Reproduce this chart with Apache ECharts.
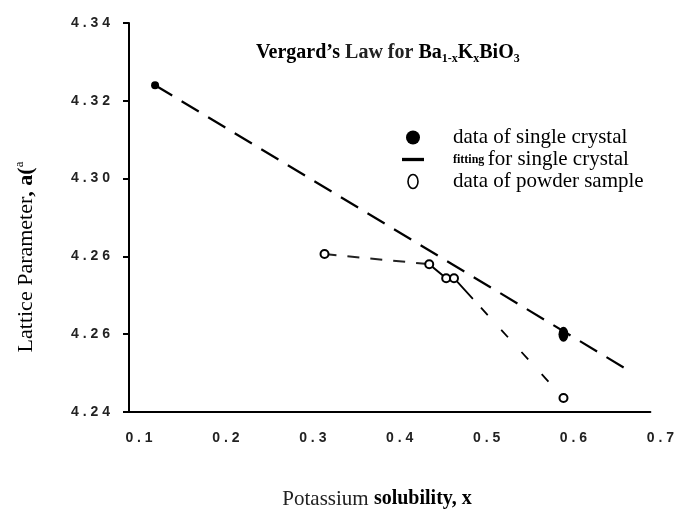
<!DOCTYPE html>
<html>
<head>
<meta charset="utf-8">
<script src="https://cdn.jsdelivr.net/npm/echarts@6/dist/echarts.min.js"></script>
<style>html,body{margin:0;padding:0;background:#fff}#c{width:677px;height:510px}</style>
</head>
<body>
<div id="c"></div>
<script>
// ---- data ----
const xTickLabels = ['0 . 1', '0 . 2', '0 . 3', '0 . 4', '0 . 5', '0 . 6', '0 . 7'];
const yTickLabels = ['4 . 2 4', '4 . 2 6', '4 . 2 6', '4 . 3 0', '4 . 3 2', '4 . 3 4']; // as printed
const singleX = [0.130, 0.600];
const singleY = [4.3240, 4.2600];
const fitX = [0.130, 0.674];
const fitY = [4.3240, 4.2508];
const powderX = [0.325, 0.4455, 0.465, 0.474, 0.600];
const powderY = [4.2806, 4.2780, 4.2744, 4.2744, 4.2436];

const zip = (xs, ys) => xs.map((x, i) => [x, ys[i]]);
const powder = zip(powderX, powderY);
const ink = '#000';

const chart = echarts.init(document.getElementById('c'), null, {renderer: 'canvas'});
chart.setOption({
  backgroundColor: '#fff',
  animation: false,
  title: {
    left: 251, top: 36,
    text: '{b|Vergard’s}{r| Law for }{b|Ba}{s|1-x}{b|K}{s|x}{b|BiO}{s|3}',
    textStyle: {
      rich: {
        b: {fontFamily: 'Liberation Serif', fontWeight: 'bold', fontSize: 20, color: ink, lineHeight: 24},
        r: {fontFamily: 'Liberation Serif', fontSize: 20, color: '#222', lineHeight: 24},
        s: {fontFamily: 'Liberation Serif', fontWeight: 'bold', fontSize: 12, color: ink, lineHeight: 12, verticalAlign: 'bottom'}
      }
    }
  },
  legend: {
    left: 397, top: 122,
    orient: 'vertical',
    itemWidth: 22, itemHeight: 14, itemGap: 1,
    selectedMode: false,
    data: [
      {name: 'data of single crystal', icon: 'circle', itemStyle: {color: ink, opacity: 1}},
      {name: 'fitting for single crystal', icon: 'path://M0,0H20V3H0Z', itemStyle: {color: ink}},
      {name: 'data of powder sample',
       icon: 'path://M5,0C7.8,0 10,3.1 10,7C10,10.9 7.8,14 5,14C2.2,14 0,10.9 0,7C0,3.1 2.2,0 5,0Z',
       itemStyle: {color: '#fff', borderColor: ink, borderWidth: 1.6, opacity: 1}}
    ],
    formatter: function (name) {
      if (name === 'fitting for single crystal') return '{p|}{s|fitting} {t|for single crystal}';
      return '{p|}{t|' + name + '}';
    },
    textStyle: {
      rich: {
        p: {width: 24},
        t: {fontFamily: 'Liberation Serif', fontSize: 21, color: ink, lineHeight: 20},
        s: {fontFamily: 'Liberation Serif', fontSize: 12, fontWeight: 'bold', color: ink, lineHeight: 20}
      }
    }
  },
  grid: {left: 129, right: 22, top: 23, bottom: 98, containLabel: false},
  xAxis: {
    type: 'value', min: 0.1, max: 0.7, interval: 0.1,
    axisLine: {show: true, onZero: false, lineStyle: {color: ink, width: 2}},
    axisTick: {show: false},
    splitLine: {show: false},
    axisLabel: {
      margin: 19, padding: [0, 0, 0, 20],
      fontFamily: 'Liberation Sans', fontWeight: 'bold', fontSize: 14, color: '#222',
      formatter: v => xTickLabels[Math.round((v - 0.1) / 0.1)] || ''
    }
  },
  yAxis: {
    type: 'value', min: 4.24, max: 4.34, interval: 0.02,
    axisLine: {show: true, onZero: false, lineStyle: {color: ink, width: 2}},
    axisTick: {show: true, length: 6, lineStyle: {color: ink, width: 2}},
    splitLine: {show: false},
    axisLabel: {
      margin: 19,
      fontFamily: 'Liberation Sans', fontWeight: 'bold', fontSize: 14, color: '#222',
      formatter: v => yTickLabels[Math.round((v - 4.24) / 0.02)] || ''
    }
  },
  series: [
    {
      name: 'fitting for single crystal', type: 'line', data: zip(fitX, fitY),
      symbol: 'none', color: ink,
      lineStyle: {color: ink, width: 2.2, type: [20, 11]}, z: 2
    },
    {
      type: 'line', data: powder.slice(0, 2), symbol: 'none', color: ink,
      lineStyle: {color: '#222', width: 2, type: [12, 11]}, z: 2
    },
    {
      type: 'line', data: powder.slice(1, 4), symbol: 'none', color: ink,
      lineStyle: {color: ink, width: 2, type: 'solid'}, z: 2
    },
    {
      type: 'line', data: powder.slice(3, 5), symbol: 'none', color: ink,
      lineStyle: {color: ink, width: 1.8, type: [28, 12, 10, 20, 10, 20, 10, 20, 10, 40]}, z: 2
    },
    {
      name: 'data of single crystal', type: 'scatter', data: zip(singleX, singleY),
      symbol: 'circle',
      symbolSize: (val, p) => p.dataIndex === 1 ? [10, 15] : 8,
      itemStyle: {color: ink, opacity: 1}, z: 5
    },
    {
      name: 'data of powder sample', type: 'scatter', data: powder,
      symbol: 'circle', symbolSize: 8,
      itemStyle: {color: '#fff', borderColor: ink, borderWidth: 2, opacity: 1}, z: 5
    }
  ],
  graphic: [
    {
      type: 'text', x: 26, y: 257, rotation: Math.PI / 2,
      style: {
        text: '{r|Lattice Parameter}{b|, a(}{u|a}',
        align: 'center', verticalAlign: 'middle',
        rich: {
          r: {fontFamily: 'Liberation Serif', fontSize: 22, fill: ink, lineHeight: 26},
          b: {fontFamily: 'Liberation Serif', fontWeight: 'bold', fontSize: 22, fill: ink, lineHeight: 26},
          u: {fontFamily: 'Liberation Serif', fontSize: 13, fill: ink, lineHeight: 14, verticalAlign: 'top'}
        }
      }
    },
    {
      type: 'text', x: 377, y: 499,
      style: {
        text: '{r|Potassium }{b|solubility, x}',
        align: 'center', verticalAlign: 'middle',
        rich: {
          r: {fontFamily: 'Liberation Serif', fontSize: 21, fill: '#222', lineHeight: 24},
          b: {fontFamily: 'Liberation Serif', fontWeight: 'bold', fontSize: 20, fill: ink, lineHeight: 24}
        }
      }
    }
  ]
});
</script>
</body>
</html>
